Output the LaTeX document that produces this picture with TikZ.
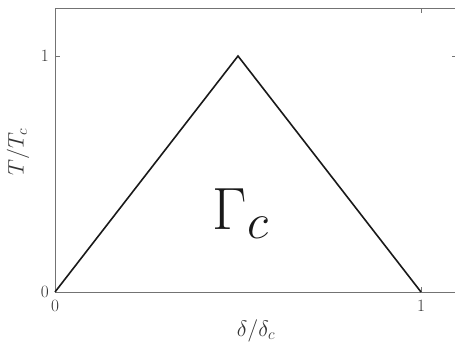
\documentclass[tikz,border=0pt]{standalone}
\begin{document}
\begin{tikzpicture}[x=1pt,y=-1pt,
  axisline/.style={draw=black!55,line width=0.9pt},
  tickline/.style={draw=black!55,line width=0.9pt},
  ticklabel/.style={font=\fontsize{16}{18}\selectfont,text=black!80,inner sep=0pt},
  axlabel/.style={font=\fontsize{20.74}{24}\selectfont,scale=1.08,text=black!80,inner sep=0pt},
  curve/.style={draw=black!90,line width=1.6pt,line join=miter}]
\useasboundingbox (0,0) rectangle (455,344);
% axis box corners
\coordinate (BL) at (55,292);
\coordinate (TL) at (55,8.5);
\coordinate (BR) at (457,292);
\coordinate (TR) at (457,8.5);
\draw[axisline] (TL) -- (BL) -- (BR) -- (TR) -- cycle;
% ticks
\coordinate (yt1L) at (55,56);
\coordinate (yt1R) at (457,56);
\coordinate (xt1B) at (421,292);
\coordinate (xt1T) at (421,8.5);
\draw[tickline] (yt1L) -- ++(5,0);
\draw[tickline] (yt1R) -- ++(-5,0);
\draw[tickline] (xt1B) -- ++(0,-5);
\draw[tickline] (xt1T) -- ++(0,5);
% tick labels
\node[ticklabel,anchor=east] (ly0) at (49,292) {$0$};
\node[ticklabel,anchor=east] (ly1) at (49,56) {$1$};
\node[ticklabel,anchor=north] (lx0) at (55,300) {$0$};
\node[ticklabel,anchor=north] (lx1) at (421,300) {$1$};
% axis labels
\node[axlabel,rotate=90] (ylab) at (18,152) {$T/T_c$};
\node[axlabel] (xlab) at (256,331) {$\delta/\delta_c$};
% curve
\coordinate (p0) at (55,292);
\coordinate (p1) at (238,56);
\coordinate (p2) at (421,292);
\draw[curve] (p0) -- (p1) -- (p2);
% region label
\node[font=\Huge,scale=2.4,text=black!90,inner sep=0pt] (gam) at (241,214) {$\Gamma_c$};
\end{tikzpicture}
\end{document}
